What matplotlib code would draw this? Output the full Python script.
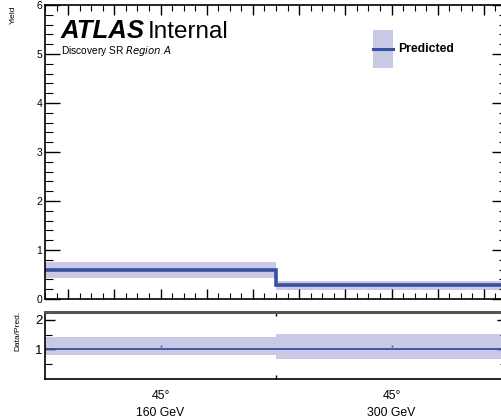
import numpy as np
import matplotlib
matplotlib.use("Agg")
from matplotlib import pyplot as plt
from matplotlib.ticker import MultipleLocator, FixedLocator, NullFormatter

plt.rcParams['font.family'] = ['Liberation Sans', 'DejaVu Sans']

# datos
bordes = [-0.5, 0.5, 1.5]
centros = [0, 1]
etiquetas = ["45°\n160 GeV", "45°\n300 GeV"]
predicho = [0.59, 0.28]
banda_sup = [0.75, 0.36]
banda_inf = [0.42, 0.18]
ratio_sup = [1.41, 1.52]
ratio_inf = [0.81, 0.67]
ratio_datos = [1.11, 1.11]

azul = "#3550a0"
lila = "#c9c9e6"

W, H = 501, 419
fig = plt.figure(figsize=(W / 100, H / 100), dpi=100)

def px(x, y):
    """ Pixeles de la figura (desde arriba a la izquierda) a fraccion de figura """
    return x / W, 1 - y / H

# panel principal (se sale un poco por la derecha, como en el original)
ax = fig.add_axes([45 / W, (H - 299) / H, 462 / W, 294 / H])
ax.set_xlim(-0.5, 1.5)
ax.set_ylim(0, 6)

for i in range(len(centros)):
    ax.fill_between([bordes[i], bordes[i + 1]], banda_inf[i], banda_sup[i],
                    color=lila, lw=0, zorder=1)
ax.stairs(predicho, bordes, color=azul, lw=2.6, zorder=2, baseline=None)

ax.xaxis.set_major_locator(MultipleLocator(0.2))
ax.xaxis.set_minor_locator(MultipleLocator(0.05))
ax.yaxis.set_major_locator(MultipleLocator(1))
ax.yaxis.set_minor_locator(MultipleLocator(0.2))
ax.xaxis.set_major_formatter(NullFormatter())
ax.tick_params(axis='x', which='major', direction='in', top=True, length=7, width=1)
ax.tick_params(axis='x', which='minor', direction='in', top=True, length=4, width=0.8)
ax.tick_params(axis='y', which='major', direction='in', right=True, length=11, width=1,
               labelsize=7.5, pad=2)
ax.tick_params(axis='y', which='minor', direction='in', right=True, length=6, width=0.8)
for s in ax.spines.values():
    s.set_linewidth(1.2)

fig.text(*px(61, 38), "ATLAS", fontsize=18.5, fontweight='bold', fontstyle='italic',
         va='baseline')
fig.text(*px(148, 38), "Internal", fontsize=17.5, va='baseline')
fig.text(*px(61, 54), "Discovery SR $\\mathit{Region\\ A}$", fontsize=7.3, va='baseline')

# leyenda dibujada a mano
fig.patches.append(plt.Rectangle(px(373, 68), 20 / W, 38 / H, transform=fig.transFigure,
                                 color=lila, lw=0, figure=fig))
fig.lines.append(plt.Line2D([373 / W, 393 / W], [1 - 49 / H, 1 - 49 / H],
                            transform=fig.transFigure, color=azul, lw=2.2, figure=fig))
fig.text(*px(398, 49), "Predicted", fontsize=8.8, fontweight='bold', va='center')

fig.text(*px(13, 6), "Yield", rotation=90, ha='center', va='top', fontsize=6)

# panel de cociente
ar = fig.add_axes([45 / W, (H - 378.5) / H, 462 / W, 66.8 / H])
ar.set_xlim(-0.5, 1.5)
ar.set_ylim(0, 2.28)
for i in range(len(centros)):
    ar.fill_between([bordes[i], bordes[i + 1]], ratio_inf[i], ratio_sup[i],
                    color=lila, lw=0, zorder=1)
ar.axhline(1, color=azul, lw=1.3, zorder=2)
ar.plot(centros, ratio_datos, 's', color=azul, ms=1.2, mew=0, zorder=3)

ar.set_xticks(centros, etiquetas)
ar.xaxis.set_minor_locator(FixedLocator([0.5]))
ar.tick_params(axis='x', which='major', length=0, labelsize=8.8, pad=8)
for lab in ar.get_xticklabels():
    lab.set_linespacing(1.65)
ar.tick_params(axis='x', which='minor', direction='in', top=True, length=3, width=1)
ar.yaxis.set_major_locator(FixedLocator([1, 2]))
ar.yaxis.set_minor_locator(FixedLocator([0.5, 1.5]))
ar.tick_params(axis='y', which='major', direction='in', right=True, length=7, width=1,
               labelsize=9.5, pad=2)
ar.tick_params(axis='y', which='minor', direction='in', right=True, length=5, width=0.8)
for s in ar.spines.values():
    s.set_linewidth(1.2)
ar.spines['top'].set_linewidth(2.2)
ar.spines['top'].set_color("#555555")

fig.text(*px(18, 331), "Data/Pred.", rotation=90, ha='center', va='center', fontsize=6)

fig.savefig("out.png", dpi=100)
